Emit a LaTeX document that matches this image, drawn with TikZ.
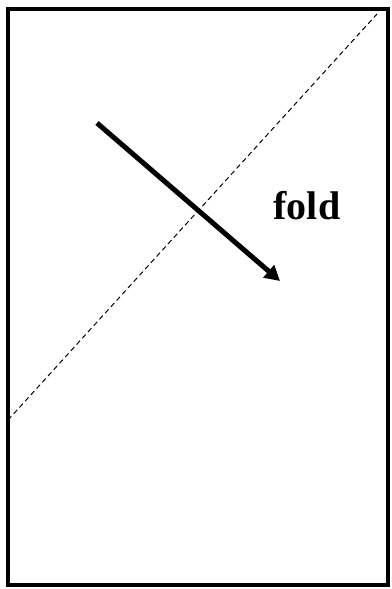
\documentclass[tikz,border=0pt]{standalone}
\usepackage{fontspec}
\setmainfont{Liberation Serif}
\usetikzlibrary{arrows.meta}
\begin{document}
\begin{tikzpicture}[x=1pt,y=-1pt,
  frame/.style={draw=black,line width=4pt},
  foldline/.style={draw=black,line width=1pt,dash pattern=on 5pt off 3.5pt},
  movearrow/.style={draw=black,line width=5pt,-{Triangle[length=15pt,width=16pt]}},
  lbl/.style={font=\fontsize{40}{44}\selectfont\bfseries,inner sep=0pt}]
\useasboundingbox (0,0) rectangle (391,589);
\draw[frame] (8,9) rectangle (388,585);
\coordinate (fa) at (8,420);
\coordinate (fb) at (377,14);
\draw[foldline] (fa) -- (fb);
\coordinate (as) at (97,123);
\coordinate (ae) at (280,281);
\draw[movearrow] (as) -- (ae);
\node[lbl] (fold) at (307,206) {fold};
\end{tikzpicture}
\end{document}
